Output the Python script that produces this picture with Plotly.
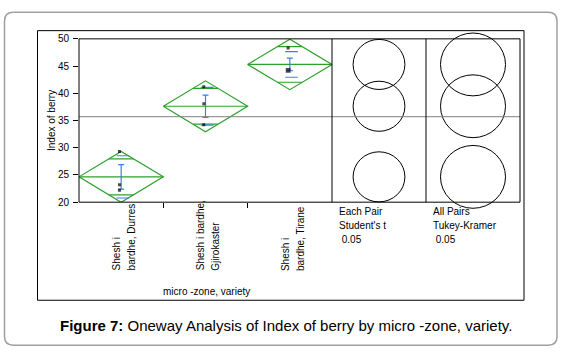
import plotly.graph_objects as go
from collections import Counter

# ---------------- data ----------------
categories = ["Shesh i bardhe, Durres", "Shesh i bardhe, Gjirokaster", "Shesh i bardhe, Tirane"]
label_lines = [["Shesh i", "bardhe, Durres"], ["Shesh i bardhe,", "Gjirokaster"], ["Shesh i", "bardhe, Tirane"]]
group_means = [24.65, 37.62, 45.3]
ci95_half = [4.65, 4.67, 4.63]
overlap_half = [3.29, 3.30, 3.27]
std_dev = [3.88, 3.45, 2.35]
std_err = [2.25, 2.03, 1.15]
obs_durres = [29.3, 23.2, 22.2]
obs_gjirokaster = [41.2, 38.1, 34.2]
obs_tirane = [48.3, 44.2, 44.2]
grand_mean = 35.7
student_radius = [4.6, 4.6, 4.6]
tukey_radius = [5.77, 5.77, 5.77]
y_ticks = [20, 25, 30, 35, 40, 45, 50]
compare_titles = [["Each Pair", "Student's t", " 0.05"], ["All Pairs", "Tukey-Kramer", " 0.05"]]
caption = "<b>Figure 7:</b> Oneway Analysis of Index of berry by micro -zone, variety."

# ---------------- layout geometry (pixels) ----------------
W, H = 566, 357
def px(x): return x / W
def py(y): return 1 - y / H

PL, PR, PT, PB = 79, 520, 34, 203      # plot frame
DIV1, DIV2 = 332, 426                  # panel dividers
YMIN, YMAX = 20, 50
scale = (PB - PT) / (YMAX - YMIN)      # px per data unit
C_TOP, C_BOT = 14, 226                 # extended area for circles

GREEN = "#2ca02c"
BLUE = "#3d7fe6"
FONT = "Liberation Sans, Arial, sans-serif"

fig = go.Figure()

# diamonds
for i, (m, h, o) in enumerate(zip(group_means, ci95_half, overlap_half)):
    xs = [i, i + 0.5, i + 1, i + 0.5, i, None, i, i + 1]
    ys = [m, m + h, m, m - h, m, None, m, m]
    w = 0.5 * (1 - o / h)
    xs += [None, i + 0.5 - w, i + 0.5 + w, None, i + 0.5 - w, i + 0.5 + w]
    ys += [None, m + o, m + o, None, m - o, m - o]
    fig.add_trace(go.Scatter(x=xs, y=ys, mode="lines", line=dict(color=GREEN, width=1.2),
                             hoverinfo="skip", showlegend=False, xaxis="x", yaxis="y"))

# std dev lines
for i, (m, s) in enumerate(zip(group_means, std_dev)):
    c = i + 0.52
    fig.add_trace(go.Scatter(x=[c - 0.075, c + 0.075, None, c - 0.075, c + 0.075],
                             y=[m + s, m + s, None, m - s, m - s], mode="lines",
                             line=dict(color=BLUE, width=1.2), hoverinfo="skip",
                             showlegend=False, xaxis="x", yaxis="y"))

# error bars (std error)
fig.add_trace(go.Scatter(x=[i + 0.5 for i in range(3)], y=group_means, mode="markers",
                         marker=dict(size=1, color=BLUE),
                         error_y=dict(type="data", array=std_err, color=BLUE, thickness=1.2, width=3),
                         hoverinfo="skip", showlegend=False, xaxis="x", yaxis="y"))

# observations
for i, obs in enumerate([obs_durres, obs_gjirokaster, obs_tirane]):
    cnt = Counter(obs)
    vals = list(cnt.keys())
    sizes = [3 + 1.8 * (cnt[v] - 1) for v in vals]
    fig.add_trace(go.Scatter(x=[i + 0.48] * len(vals), y=vals, mode="markers",
                             marker=dict(symbol="square", size=sizes, color="black", line=dict(width=0)),
                             hoverinfo="skip", showlegend=False, xaxis="x", yaxis="y"))

# circle subplot (x2, y2) with equal scale
x2_range = [0, (PR - DIV1) / scale]
y2_range = [YMIN - (C_BOT - PB) / scale, YMAX + (PT - C_TOP) / scale]
fig.add_trace(go.Scatter(x=[None], y=[None], xaxis="x2", yaxis="y2", showlegend=False))

shapes = []
panel_centers = [((DIV1 + DIV2) / 2 - DIV1) / scale, ((DIV2 + PR) / 2 - DIV1) / scale]
for pc, radii in zip(panel_centers, [student_radius, tukey_radius]):
    for m, r in zip(group_means, radii):
        shapes.append(dict(type="circle", xref="x2", yref="y2", x0=pc - r, x1=pc + r,
                           y0=m - r, y1=m + r, line=dict(color="black", width=1)))

# grand mean line
shapes.append(dict(type="line", xref="paper", yref="y2", x0=px(PL), x1=px(PR),
                   y0=grand_mean, y1=grand_mean, line=dict(color="#808080", width=1)))
# plot frame and dividers
shapes.append(dict(type="rect", xref="paper", yref="paper", x0=px(PL), x1=px(PR), y0=py(PB), y1=py(PT),
                   line=dict(color="black", width=1)))
for d in (DIV1, DIV2):
    shapes.append(dict(type="line", xref="paper", yref="paper", x0=px(d), x1=px(d), y0=py(PB), y1=py(PT),
                       line=dict(color="black", width=1)))
# inner box
shapes.append(dict(type="rect", xref="paper", yref="paper", x0=px(37.5), x1=px(524), y0=py(304.5), y1=py(25.5),
                   line=dict(color="black", width=1)))
# rounded outer border
L, T, R, B, rr = 4.5, 6.5, 557, 351, 9
path = (f"M {px(L+rr)} {py(T)} L {px(R-rr)} {py(T)} Q {px(R)} {py(T)} {px(R)} {py(T+rr)} "
        f"L {px(R)} {py(B-rr)} Q {px(R)} {py(B)} {px(R-rr)} {py(B)} "
        f"L {px(L+rr)} {py(B)} Q {px(L)} {py(B)} {px(L)} {py(B-rr)} "
        f"L {px(L)} {py(T+rr)} Q {px(L)} {py(T)} {px(L+rr)} {py(T)} Z")
shapes.append(dict(type="path", xref="paper", yref="paper", path=path, line=dict(color="#a0a0a0", width=1.5)))

annotations = []
# category labels
for i, lines in enumerate(label_lines):
    for j, (t, sh) in enumerate(zip(lines, [-5, 10])):
        annotations.append(dict(x=i + 0.5, y=py(276), xref="x", yref="paper", text=t, textangle=-90,
                                showarrow=False, xanchor="center", yanchor="bottom", xshift=sh,
                                font=dict(size=10, color="black")))
annotations.append(dict(x=px(206), y=py(295), xref="paper", yref="paper", text="micro -zone, variety",
                        showarrow=False, xanchor="center", yanchor="middle", font=dict(size=10, color="black")))
annotations.append(dict(x=px(52), y=py(119), xref="paper", yref="paper", text="Index of berry",
                        textangle=-90, showarrow=False, xanchor="center", yanchor="middle",
                        font=dict(size=10, color="black")))
for xl, lines in zip([337, 431], compare_titles):
    for t, yy in zip(lines, [213, 227, 242]):
        annotations.append(dict(x=px(xl), y=py(yy), xref="paper", yref="paper", text=t,
                                showarrow=False, xanchor="left", yanchor="middle",
                                font=dict(size=10, color="black")))
annotations.append(dict(x=px(286), y=py(331), xref="paper", yref="paper", text=caption,
                        showarrow=False, xanchor="center", yanchor="middle", font=dict(size=15, color="black")))

fig.update_layout(
    width=W, height=H, margin=dict(l=0, r=0, t=0, b=0),
    paper_bgcolor="white", plot_bgcolor="rgba(0,0,0,0)",
    font=dict(family=FONT, size=10, color="black"),
    showlegend=False,
    xaxis=dict(domain=[px(PL), px(DIV1)], range=[0, 3], tickvals=[1, 2], ticks="outside", ticklen=5,
               tickcolor="black", showticklabels=False, showgrid=False, zeroline=False, showline=False,
               fixedrange=True),
    yaxis=dict(domain=[py(PB), py(PT)], range=[YMIN, YMAX], tickvals=y_ticks, ticks="outside", ticklen=5,
               tickcolor="black", showgrid=False, zeroline=False, showline=False,
               tickfont=dict(size=10, color="black"), ticklabelstandoff=2, fixedrange=True),
    xaxis2=dict(domain=[px(DIV1), px(PR)], range=x2_range, visible=False, anchor="y2", fixedrange=True),
    yaxis2=dict(domain=[py(C_BOT), py(C_TOP)], range=y2_range, visible=False, anchor="x2", fixedrange=True),
    shapes=shapes, annotations=annotations,
)

fig.write_html("out.html", config={"displayModeBar": False},
               post_script="document.body.style.margin='0';document.body.style.overflow='hidden';")
